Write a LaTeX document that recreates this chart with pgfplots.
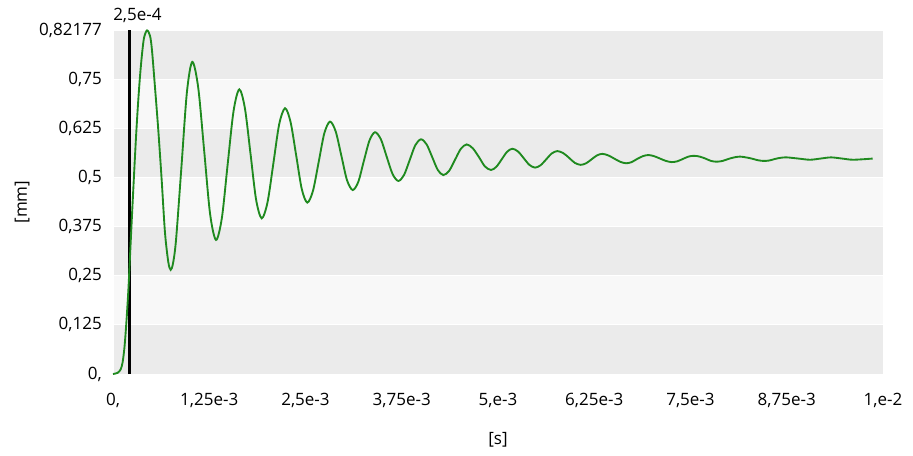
\documentclass[border=0pt]{standalone}
\usepackage{pgfplots}
\pgfplotsset{compat=1.18}
\usepackage{fontspec}
\setmainfont{Open Sans}

\definecolor{banddark}{HTML}{EBEBEB}
\definecolor{bandlight}{HTML}{F8F8F8}
\definecolor{curvegreen}{HTML}{1F8A1F}

\begin{document}
\fontsize{12.75}{15}\selectfont
\begin{tikzpicture}
\begin{axis}[
    at={(0,0)}, anchor=south west,
    width=577.5pt, height=258pt, scale only axis,
    xmin=0, xmax=10, ymin=0, ymax=0.875,
    axis line style={draw=none},
    major tick length=0pt,
    xtick={0,1.25,2.5,3.75,5,6.25,7.5,8.75,10},
    xticklabels={{0,},{1,25e-3},{2,5e-3},{3,75e-3},{5,e-3},{6,25e-3},{7,5e-3},{8,75e-3},{1,e-2}},
    ytick={0,0.125,0.25,0.375,0.5,0.625,0.75,0.875},
    yticklabels={{0,},{0,125},{0,25},{0,375},{0,5},{0,625},{0,75},{0,82177}},
    xticklabel style={yshift=-10pt},
    yticklabel style={xshift=-4pt},
    xlabel={[s]}, ylabel={[mm]},
    every axis x label/.style={at={(axis description cs:0.5,-0.192)}, anchor=center},
    every axis y label/.style={at={(axis description cs:-0.118,0.5)}, anchor=center, rotate=90},
    clip mode=individual,
]
% background bands
\addplot[draw=white, line width=0.6pt, fill=banddark, forget plot] coordinates {(0,0) (10,0) (10,0.125) (0,0.125)} -- cycle;
\addplot[draw=white, line width=0.6pt, fill=bandlight, forget plot] coordinates {(0,0.125) (10,0.125) (10,0.25) (0,0.25)} -- cycle;
\addplot[draw=white, line width=0.6pt, fill=banddark, forget plot] coordinates {(0,0.25) (10,0.25) (10,0.375) (0,0.375)} -- cycle;
\addplot[draw=white, line width=0.6pt, fill=bandlight, forget plot] coordinates {(0,0.375) (10,0.375) (10,0.5) (0,0.5)} -- cycle;
\addplot[draw=white, line width=0.6pt, fill=banddark, forget plot] coordinates {(0,0.5) (10,0.5) (10,0.625) (0,0.625)} -- cycle;
\addplot[draw=white, line width=0.6pt, fill=bandlight, forget plot] coordinates {(0,0.625) (10,0.625) (10,0.75) (0,0.75)} -- cycle;
\addplot[draw=white, line width=0.6pt, fill=banddark, forget plot] coordinates {(0,0.75) (10,0.75) (10,0.875) (0,0.875)} -- cycle;

% cursor
\addplot[black, line width=2pt, forget plot] coordinates {(0.21,0) (0.21,0.875)};
\node[anchor=base west, inner sep=0pt] at (rel axis cs:0,1) [yshift=7pt] {2,5e-4};

% displacement, time in ms (axis labelled in s)
\addplot[curvegreen, line width=1.4pt, smooth, tension=0.5] coordinates {
(0,0) (0.060,0.003) (0.100,0.012) (0.125,0.030) (0.150,0.070) (0.175,0.135)
(0.200,0.215) (0.221,0.300) (0.247,0.405) (0.273,0.506) (0.299,0.603) (0.325,0.687)
(0.351,0.758) (0.377,0.814) (0.403,0.855) (0.442,0.874) (0.481,0.860) (0.506,0.824)
(0.545,0.730) (0.588,0.621) (0.632,0.494) (0.675,0.360) (0.718,0.285) (0.749,0.265)
(0.780,0.282) (0.819,0.342) (0.890,0.530) (0.960,0.717) (1.030,0.794)
(1.107,0.728) (1.184,0.568) (1.261,0.407) (1.338,0.341)
(1.414,0.397) (1.489,0.533) (1.565,0.668) (1.640,0.724)
(1.713,0.676) (1.786,0.560) (1.858,0.444) (1.931,0.396)
(2.007,0.437) (2.083,0.536) (2.158,0.635) (2.234,0.676)
(2.306,0.641) (2.379,0.556) (2.451,0.471) (2.523,0.436)
(2.597,0.466) (2.671,0.539) (2.744,0.612) (2.818,0.642)
(2.892,0.617) (2.966,0.555) (3.039,0.493) (3.113,0.468)
(3.186,0.489) (3.258,0.542) (3.331,0.594) (3.403,0.615)
(3.479,0.597) (3.554,0.553) (3.630,0.509) (3.705,0.491)
(3.779,0.506) (3.853,0.544) (3.926,0.582) (4.000,0.597)
(4.073,0.584) (4.145,0.552) (4.218,0.519) (4.290,0.506)
(4.366,0.517) (4.442,0.545) (4.518,0.573) (4.594,0.584)
(4.673,0.574) (4.752,0.552) (4.830,0.528) (4.909,0.519)
(4.978,0.527) (5.048,0.546) (5.117,0.565) (5.186,0.573)
(5.260,0.566) (5.334,0.549) (5.407,0.532) (5.481,0.525)
(5.553,0.531) (5.626,0.546) (5.698,0.561) (5.770,0.567)
(5.846,0.562) (5.922,0.550) (5.998,0.537) (6.074,0.532)
(6.144,0.536) (6.215,0.546) (6.285,0.556) (6.355,0.560)
(6.432,0.556) (6.509,0.548) (6.585,0.540) (6.662,0.536)
(6.735,0.539) (6.807,0.547) (6.880,0.554) (6.952,0.557)
(7.028,0.554) (7.104,0.548) (7.180,0.542) (7.256,0.539)
(7.328,0.541) (7.401,0.547) (7.473,0.553) (7.545,0.555)
(7.619,0.553) (7.693,0.548) (7.766,0.542) (7.840,0.540)
(7.916,0.542) (7.992,0.547) (8.067,0.551) (8.143,0.553)
(8.219,0.551) (8.294,0.548) (8.370,0.544) (8.445,0.542)
(8.521,0.543) (8.597,0.547) (8.673,0.550) (8.749,0.551)
(8.901,0.548) (9.052,0.545) (9.189,0.548) (9.325,0.551)
(9.470,0.548) (9.614,0.545) (9.866,0.548)
};
\end{axis}
\pgfresetboundingbox
\path[use as bounding box] (-84.75pt,-60.75pt) rectangle (600pt,280.5pt);
\end{tikzpicture}
\end{document}
